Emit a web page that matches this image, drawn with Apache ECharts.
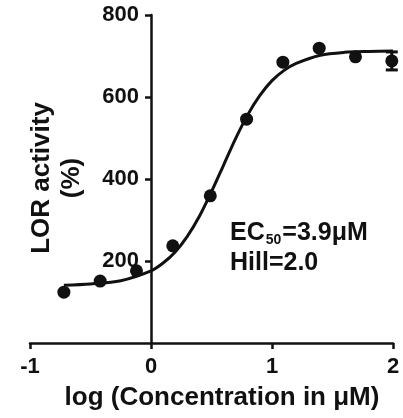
<!DOCTYPE html>
<html>
<head>
<meta charset="utf-8">
<script src="https://cdn.jsdelivr.net/npm/echarts@6/dist/echarts.min.js"></script>
<style>
  html, body { margin: 0; padding: 0; background: #fff; }
  #main { width: 403px; height: 418px; }
</style>
</head>
<body>
<div id="main"></div>
<script>
// measured points: log concentration (uM) vs LOR activity (%)
const logConc = [-0.72, -0.42, -0.12, 0.18, 0.49, 0.79, 1.09, 1.39, 1.69, 1.99]
const activity = [124, 151, 176, 237, 359, 546, 685, 719, 698, 688]
const activityErr = [0, 0, 0, 0, 0, 0, 0, 0, 0, 22]

// fitted sigmoid
const fitX = [-0.72, -0.5, -0.25, 0, 0.1, 0.2, 0.3, 0.4, 0.5, 0.6, 0.7, 0.8, 0.9, 1.0, 1.1, 1.2, 1.4, 1.6, 1.8, 2.0]
const fitY = [141, 144, 152, 176, 195, 222, 260, 309, 369, 434, 499, 557, 604, 640, 665, 682, 702, 709, 711, 712]

const xTicks = [-1, 0, 1, 2]
const yTicks = [200, 400, 600, 800]

const FONT = 'Liberation Sans, Arial, sans-serif'
const INK = '#111'

const chart = echarts.init(document.getElementById('main'))

const points = logConc.map((x, i) => [x, activity[i]])
const errData = logConc.map((x, i) => [x, activity[i] - activityErr[i], activity[i] + activityErr[i]])
    .filter((d, i) => activityErr[i] > 0)
const fitLine = fitX.map((x, i) => [x, fitY[i]])

chart.setOption({
    backgroundColor: '#fff',
    animation: false,
    grid: {
        left: 30,
        right: 10,
        top: 15,
        bottom: 75,
        outerBoundsMode: 'none'
    },
    xAxis: {
        type: 'value',
        min: -1,
        max: 2,
        interval: 1,
        splitLine: { show: false },
        axisLine: { onZero: false, lineStyle: { color: INK, width: 2.5 } },
        axisTick: { length: 6, lineStyle: { color: INK, width: 2.5 } },
        axisLabel: {
            margin: 13,
            color: INK,
            fontFamily: FONT,
            fontWeight: 'bold',
            fontSize: 22,
            formatter: v => xTicks.includes(v) ? String(v) : ''
        }
    },
    yAxis: {
        type: 'value',
        min: 0,
        max: 800,
        interval: 200,
        // the y axis crosses the x axis at log = 0 (one unit in from the left edge)
        offset: -121,
        splitLine: { show: false },
        axisLine: { show: true, onZero: false, lineStyle: { color: INK, width: 2.5 } },
        axisTick: {
            show: true,
            length: 6,
            lineStyle: { color: INK, width: 2.5 },
            customValues: yTicks
        },
        axisLabel: {
            margin: 12,
            color: INK,
            fontFamily: FONT,
            fontWeight: 'bold',
            fontSize: 22,
            customValues: yTicks
        }
    },
    graphic: [
        {
            type: 'text',
            x: 57,
            y: 178,
            rotation: Math.PI / 2,
            style: {
                text: 'LOR activity\n(%)',
                fill: INK,
                font: 'bold 26px ' + FONT,
                lineHeight: 30,
                align: 'center',
                verticalAlign: 'middle'
            }
        },
        {
            type: 'text',
            x: 222,
            y: 398,
            style: {
                text: 'log (Concentration in μM)',
                fill: INK,
                font: 'bold 26px ' + FONT,
                align: 'center',
                verticalAlign: 'middle'
            }
        },
        {
            type: 'text',
            x: 230,
            y: 233,
            style: {
                text: '{m|EC}{s|50}{m|=3.9μM}',
                verticalAlign: 'middle',
                rich: {
                    m: { fill: INK, fontFamily: FONT, fontWeight: 'bold', fontSize: 25, lineHeight: 28 },
                    s: { fill: INK, fontFamily: FONT, fontWeight: 'bold', fontSize: 14, lineHeight: 28, verticalAlign: 'bottom', padding: [0, 1, 0, 1] }
                }
            }
        },
        {
            type: 'text',
            x: 230,
            y: 263,
            style: {
                text: 'Hill=2.0',
                fill: INK,
                font: 'bold 25px ' + FONT,
                verticalAlign: 'middle'
            }
        }
    ],
    series: [
        {
            name: 'fit',
            type: 'line',
            data: fitLine,
            smooth: 0.3,
            showSymbol: false,
            lineStyle: { color: INK, width: 3 },
            z: 2
        },
        {
            name: 'error',
            type: 'custom',
            data: errData,
            renderItem: (params, api) => {
                const x = api.value(0)
                const lo = api.coord([x, api.value(1)])
                const hi = api.coord([x, api.value(2)])
                const cap = 6
                const style = { stroke: INK, lineWidth: 3 }
                return {
                    type: 'group',
                    children: [
                        { type: 'line', shape: { x1: lo[0], y1: lo[1], x2: hi[0], y2: hi[1] }, style },
                        { type: 'line', shape: { x1: lo[0] - cap, y1: lo[1], x2: lo[0] + cap, y2: lo[1] }, style },
                        { type: 'line', shape: { x1: hi[0] - cap, y1: hi[1], x2: hi[0] + cap, y2: hi[1] }, style }
                    ]
                }
            },
            z: 3
        },
        {
            name: 'data',
            type: 'scatter',
            data: points,
            symbol: 'circle',
            symbolSize: 13,
            itemStyle: { color: INK, opacity: 1 },
            z: 4
        }
    ]
})
</script>
</body>
</html>
